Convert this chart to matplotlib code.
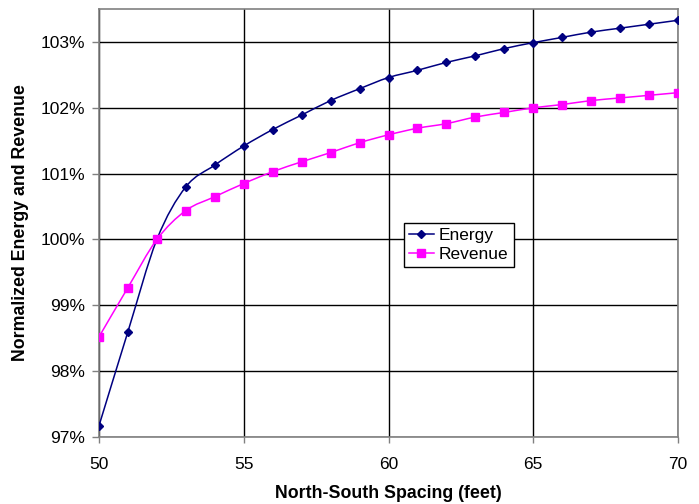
import matplotlib
matplotlib.use("Agg")
import matplotlib.pyplot as plt
from matplotlib.path import Path
from matplotlib.patches import PathPatch
from matplotlib.ticker import FuncFormatter
import numpy as np

plt.rcParams['font.family'] = ['Liberation Sans', 'DejaVu Sans']

spacing = [50, 51, 52, 53, 54, 55, 56, 57, 58, 59, 60,
           61, 62, 63, 64, 65, 66, 67, 68, 69, 70]
energy = [97.17, 98.60, 100.00, 100.80, 101.13, 101.42, 101.67, 101.89, 102.11, 102.29, 102.46,
          102.57, 102.69, 102.79, 102.90, 102.99, 103.07, 103.15, 103.21, 103.27, 103.33]
revenue = [98.52, 99.27, 100.00, 100.44, 100.65, 100.85, 101.03, 101.18, 101.32, 101.47, 101.59,
           101.69, 101.76, 101.86, 101.93, 102.00, 102.05, 102.11, 102.15, 102.19, 102.23]


def smooth_path(x, y):
    # bezier through the points, like a spreadsheet "smoothed line"
    x = np.asarray(x, float)
    y = np.asarray(y, float)
    n = len(x)
    verts = [(x[0], y[0])]
    codes = [Path.MOVETO]
    for i in range(n - 1):
        p0 = (x[max(i - 1, 0)], y[max(i - 1, 0)])
        p1 = (x[i], y[i])
        p2 = (x[i + 1], y[i + 1])
        p3 = (x[min(i + 2, n - 1)], y[min(i + 2, n - 1)])
        c1 = (p1[0] + (p2[0] - p0[0]) / 6, p1[1] + (p2[1] - p0[1]) / 6)
        c2 = (p2[0] - (p3[0] - p1[0]) / 6, p2[1] - (p3[1] - p1[1]) / 6)
        verts += [c1, c2, p2]
        codes += [Path.CURVE4] * 3
    return Path(verts, codes)


fig = plt.figure(figsize=(6.99, 5.04), dpi=100)
ax = fig.add_axes([0.1416, 0.133, 0.8284, 0.849])

for ys, col, mk, ms, lab in [(energy, '#000080', 'D', 4, 'Energy'),
                             (revenue, '#FF00FF', 's', 5.5, 'Revenue')]:
    ax.add_patch(PathPatch(smooth_path(spacing, ys), fill=False, edgecolor=col, lw=1.1, zorder=3))
    ax.plot(spacing, ys, linestyle='none', marker=mk, ms=ms, color=col, zorder=4)
    ax.plot([], [], color=col, marker=mk, ms=ms, lw=1.1, label=lab)

ax.set_xlim(50, 70)
ax.set_ylim(97, 103.5)
ax.set_xticks([50, 55, 60, 65, 70])
ax.set_yticks([97, 98, 99, 100, 101, 102, 103])
ax.yaxis.set_major_formatter(FuncFormatter(lambda v, p: '%d%%' % round(v)))
ax.grid(True, color='black', lw=1.0)
ax.set_axisbelow(True)
for s in ax.spines.values():
    s.set_color('#808080')
    s.set_linewidth(1.2)
ax.tick_params(direction='out', width=1, color='#808080', labelsize=12.5, colors='black')
ax.tick_params(axis='x', length=4.5, pad=10)
ax.tick_params(axis='y', length=5, pad=5)

ax.set_xlabel('North-South Spacing (feet)', fontsize=12.8, fontweight='bold', va='center')
ax.set_ylabel('Normalized Energy and Revenue', fontsize=12.8, fontweight='bold', va='center')
ax.xaxis.set_label_coords(0.5, -0.1330)
ax.yaxis.set_label_coords(-0.1347, 0.5)

leg = ax.legend(loc='upper left', bbox_to_anchor=(0.527, 0.500), fontsize=12.5,
                fancybox=False, framealpha=1, edgecolor='black', handlelength=1.4,
                handletextpad=0.3, borderpad=0.3, labelspacing=0.2, borderaxespad=0)
leg.get_frame().set_linewidth(1.0)

fig.savefig('out.png', dpi=100)
